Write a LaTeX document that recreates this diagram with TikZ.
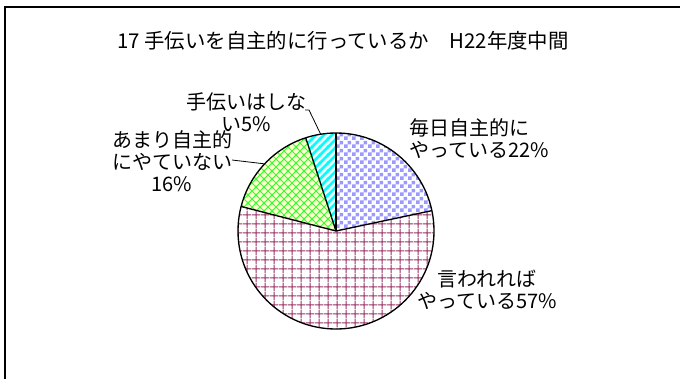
\documentclass[tikz,border=0pt]{standalone}
\usepackage{fontspec}
\setmainfont{Noto Sans CJK JP}
\usetikzlibrary{patterns,calc}
\pgfdeclarepatternformonly{mychecker}{\pgfqpoint{0pt}{0pt}}{\pgfqpoint{6pt}{6pt}}{\pgfqpoint{6pt}{6pt}}{%
  \pgfpathrectangle{\pgfqpoint{0pt}{0pt}}{\pgfqpoint{3pt}{3pt}}%
  \pgfpathrectangle{\pgfqpoint{3pt}{3pt}}{\pgfqpoint{3pt}{3pt}}%
  \pgfusepath{fill}}
\pgfdeclarepatternformonly{mygrid}{\pgfqpoint{0pt}{0pt}}{\pgfqpoint{6.5pt}{6.5pt}}{\pgfqpoint{6.5pt}{6.5pt}}{%
  \pgfsetlinewidth{0.7pt}%
  \pgfpathmoveto{\pgfqpoint{3.25pt}{0pt}}\pgfpathlineto{\pgfqpoint{3.25pt}{6.5pt}}%
  \pgfpathmoveto{\pgfqpoint{0pt}{3.25pt}}\pgfpathlineto{\pgfqpoint{6.5pt}{3.25pt}}%
  \pgfusepath{stroke}}
\pgfdeclarepatternformonly{mycross}{\pgfqpoint{-1pt}{-1pt}}{\pgfqpoint{7pt}{7pt}}{\pgfqpoint{6pt}{6pt}}{%
  \pgfsetlinewidth{0.6pt}%
  \pgfpathmoveto{\pgfqpoint{-1pt}{-1pt}}\pgfpathlineto{\pgfqpoint{7pt}{7pt}}%
  \pgfpathmoveto{\pgfqpoint{-1pt}{7pt}}\pgfpathlineto{\pgfqpoint{7pt}{-1pt}}%
  \pgfusepath{stroke}}
\pgfdeclarepatternformonly{mystripes}{\pgfqpoint{-1pt}{-1pt}}{\pgfqpoint{7pt}{7pt}}{\pgfqpoint{6pt}{6pt}}{%
  \pgfsetlinewidth{2.1pt}%
  \pgfpathmoveto{\pgfqpoint{-1pt}{-1pt}}\pgfpathlineto{\pgfqpoint{7pt}{7pt}}%
  \pgfusepath{stroke}}
\definecolor{chk}{HTML}{9999FF}
\definecolor{grd}{HTML}{993366}
\definecolor{crs}{HTML}{33FF33}
\definecolor{crsbg}{HTML}{FFFFCC}
\definecolor{stp}{HTML}{00FFFF}
\tikzset{
  lbl/.style={inner sep=0pt, font=\fontsize{15pt}{16.5pt}\selectfont},
  slice/.style={draw=black, line width=1pt, line join=round},
  leader/.style={draw=black, line width=0.6pt}
}
\begin{document}
\begin{tikzpicture}[x=0.75pt, y=-0.75pt]
\useasboundingbox (0,0) rectangle (680,379);
\fill[white] (0,0) rectangle (680,379);
\draw[line width=1pt] (5,379) -- (5,7) -- (680,7);
\coordinate (c) at (336,231);
% slices
\fill[crsbg] (c) -- ++(194.5:98) arc[start angle=194.5, end angle=252, radius=98] -- cycle;
\fill[pattern=mychecker, pattern color=chk] (c) -- ++(-90:98) arc[start angle=-90, end angle=-12, radius=98] -- cycle;
\fill[pattern=mygrid, pattern color=grd] (c) -- ++(-12:98) arc[start angle=-12, end angle=194.5, radius=98] -- cycle;
\fill[pattern=mycross, pattern color=crs] (c) -- ++(194.5:98) arc[start angle=194.5, end angle=252, radius=98] -- cycle;
\fill[pattern=mystripes, pattern color=stp] (c) -- ++(252:98) arc[start angle=252, end angle=270, radius=98] -- cycle;
\draw[slice] (c) -- ++(-90:98);
\draw[slice] (c) -- ++(-12:98);
\draw[slice] (c) -- ++(194.5:98);
\draw[slice] (c) -- ++(252:98);
\draw[slice] (c) circle[radius=98];
% title
\node[lbl, font=\fontsize{15.3pt}{17pt}\selectfont] (title) at (343,41) {17 手伝いを自主的に行っているか\hspace{1em}H22年度中間};
% labels
\node[lbl, anchor=west, align=left] (la) at (409,139) {毎日自主的に\\やっている22\%};
\node[lbl, align=center] (lb) at (487,290) {言われれば\\やっている57\%};
\node[lbl, align=center] (lc) at (172,161) {あまり自主的\\にやていない\\16\%};
\node[lbl, align=center] (ld) at (246,112) {手伝いはしな\\い5\%};
% leaders
\coordinate (eC) at ($(c)+(-136.75:98)$);
\coordinate (eD) at ($(c)+(-99:98)$);
\coordinate (sC) at (232,160);
\coordinate (sD) at (305,110);
\draw[leader] (sC) -- (eC);
\draw[leader] (sD) -- ++(4,0) -- (eD);
\end{tikzpicture}
\end{document}
